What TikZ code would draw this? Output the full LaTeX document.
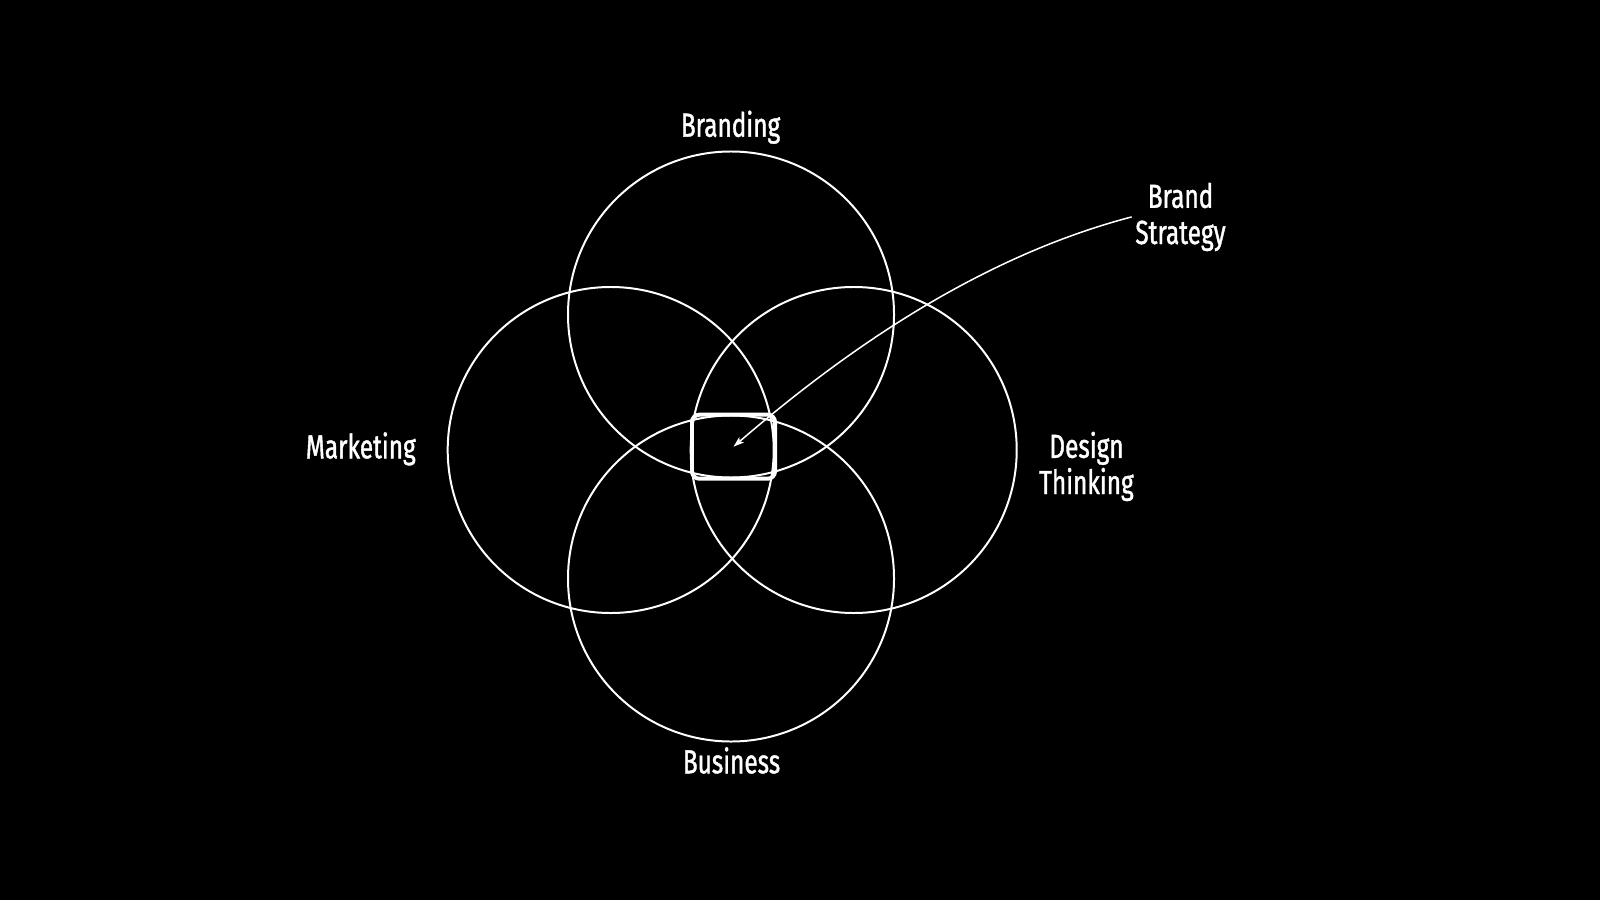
\documentclass[tikz,border=0pt]{standalone}
\usepackage{fontspec}
\setmainfont{Fira Sans}[FakeStretch=0.73,FakeBold=1.2]
\usetikzlibrary{arrows.meta}

\begin{document}
\begin{tikzpicture}
    [x=0.03cm,y=-0.03cm,
     venn/.style={circle,draw=white,line width=1.7pt,minimum size=9.78cm,inner sep=0pt},
     txt/.style={text=white,inner sep=3pt,align=center,font=\fontsize{28.5}{30.9}\selectfont}]
    \fill[black] (0,0) rectangle (1600,900);
    \node[venn] (cbr) at (731,314.5) {};
    \node[venn] (cbu) at (731,578.5) {};
    \node[venn] (cma) at (610.7,450) {};
    \node[venn] (cde) at (853.7,450) {};
    \node[draw=white,line width=3.4pt,rounded corners=0.22cm,minimum width=2.49cm,minimum height=1.92cm] (box) at (733.5,446.7) {};
    \node[txt,anchor=base] (branding) at (730.5,136.7) {Branding};
    \node[txt,anchor=base] (business) at (731.5,773.3) {Business};
    \node[txt,anchor=base] (marketing) at (360.8,458.3) {Marketing};
    \node[txt,anchor=base] (design) at (1086.5,494) {Design\\Thinking};
    \node[txt,anchor=base] (strategy) at (1180.5,244) {Brand\\Strategy};
    \draw[white,line width=1.3pt,-{Stealth[length=9pt,width=6pt,inset=2pt]}]
      (strategy.west) .. controls (975,258) and (840,355) .. (box.center);
\end{tikzpicture}
\end{document}
